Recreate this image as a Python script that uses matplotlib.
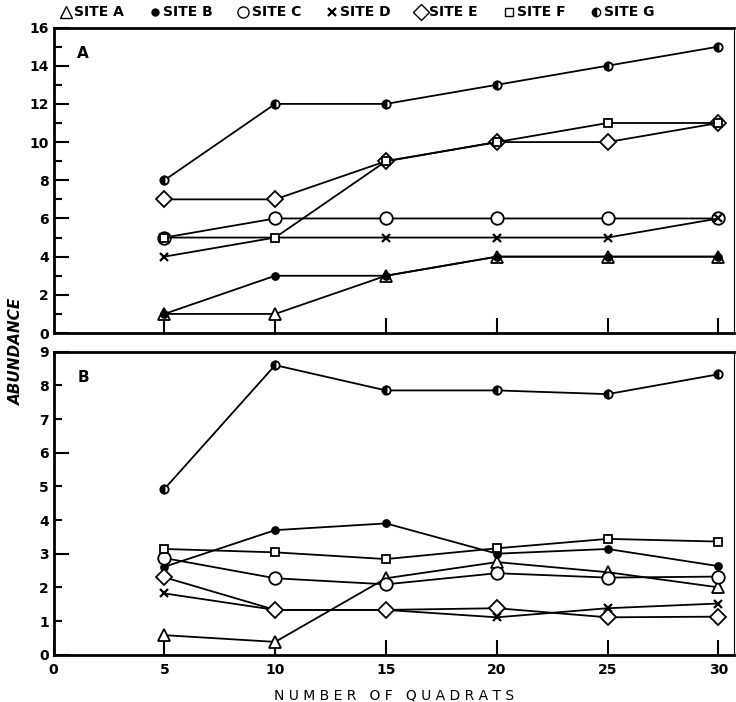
import numpy as np
import matplotlib.pyplot as plt
from matplotlib.lines import Line2D

quadrats = [5, 10, 15, 20, 25, 30]

# panel A
a_site_a = [1, 1, 3, 4, 4, 4]
a_site_b = [1, 3, 3, 4, 4, 4]
a_site_c = [5, 6, 6, 6, 6, 6]
a_site_d = [4, 5, 5, 5, 5, 6]
a_site_e = [7, 7, 9, 10, 10, 11]
a_site_f = [5, 5, 9, 10, 11, 11]
a_site_g = [8, 12, 12, 13, 14, 15]

# panel B
b_site_a = [0.58, 0.38, 2.27, 2.75, 2.45, 2.0]
b_site_b = [2.61, 3.70, 3.90, 3.00, 3.14, 2.63]
b_site_c = [2.87, 2.27, 2.09, 2.42, 2.29, 2.32]
b_site_d = [1.82, 1.33, 1.33, 1.11, 1.38, 1.52]
b_site_e = [2.30, 1.33, 1.33, 1.38, 1.11, 1.13]
b_site_f = [3.14, 3.04, 2.84, 3.16, 3.44, 3.36]
b_site_g = [4.92, 8.60, 7.85, 7.85, 7.74, 8.33]

site_names = ["SITE A", "SITE B", "SITE C", "SITE D", "SITE E", "SITE F", "SITE G"]
styles = [
    dict(marker="^", ms=9, mfc="white"),
    dict(marker="o", ms=5, mfc="black"),
    dict(marker="o", ms=9, mfc="white"),
    dict(marker="x", ms=6, mew=1.6),
    dict(marker="D", ms=8, mfc="white"),
    dict(marker="s", ms=6, mfc="white"),
    dict(marker="o", ms=6, fillstyle="left", mfc="black", mfcalt="white"),
]

plt.rcParams['font.family'] = 'DejaVu Sans'
plt.rcParams['font.weight'] = 'bold'

fig = plt.figure(figsize=(7.36, 7.02), dpi=100)
ax_a = fig.add_axes([0.0727, 0.5256, 0.9246, 0.4352])
ax_b = fig.add_axes([0.0727, 0.0674, 0.9246, 0.4316])

data_a = [a_site_a, a_site_b, a_site_c, a_site_d, a_site_e, a_site_f, a_site_g]
data_b = [b_site_a, b_site_b, b_site_c, b_site_d, b_site_e, b_site_f, b_site_g]

for ax, data in [(ax_a, data_a), (ax_b, data_b)]:
    for vals, st in zip(data, styles):
        kw = dict(st)
        kw.setdefault("mew", 1.3)
        ax.plot(quadrats, vals, color="black", lw=1.3, mec="black",
                clip_on=False, **kw)
    ax.set_xlim(0, 30.7)
    ax.set_xticks([5, 10, 15, 20, 25, 30])
    for s in ax.spines.values():
        s.set_linewidth(2)
    ax.spines['right'].set_linewidth(0.8)
    ax.tick_params(direction="in", width=1.5, length=11, labelsize=10)
    ax.tick_params(which="minor", direction="in", width=1.5, length=6)

ax_a.set_ylim(0, 16)
ax_a.set_yticks(range(0, 17, 2))
ax_a.set_yticks(range(1, 16, 2), minor=True)
ax_a.tick_params(axis="x", labelbottom=False)
ax_a.text(0.035, 0.9, "A", transform=ax_a.transAxes, fontsize=11, fontweight="bold")

ax_b.set_ylim(0, 9)
ax_b.set_yticks([0, 3, 6, 9])
ax_b.set_yticks([1, 2, 4, 5, 7, 8], minor=True)
ax_b.set_yticklabels(["0", "3", "6", "9"])
ax_b.set_yticklabels(["1", "2", "4", "5", "7", "8"], minor=True)
ax_b.tick_params(axis="y", which="minor", labelsize=10)
ax_b.set_xticks([0, 5, 10, 15, 20, 25, 30])
ax_b.set_xticklabels(["0", "5", "10", "15", "20", "25", "30"])
ax_b.tick_params(axis="x", pad=6)
ax_b.text(0.035, 0.9, "B", transform=ax_b.transAxes, fontsize=11, fontweight="bold")
ax_b.set_xlabel("N U M B E R   O F   Q U A D R A T S", fontsize=10, labelpad=8)

fig.text(0.022, 0.5, "ABUNDANCE", rotation=90, style="italic", fontsize=11,
         ha="center", va="center")

handles = [Line2D([], [], color="black", ls="none", mec="black",
                  **dict(st, ms=min(st["ms"], 8))) for st in styles]
fig.legend(handles, site_names, loc="upper left", bbox_to_anchor=(0.065, 1.01),
           ncol=7, frameon=False, fontsize=10, handlelength=0.8,
           handletextpad=0.2, columnspacing=1.8)

plt.savefig("out.png", dpi=100)
